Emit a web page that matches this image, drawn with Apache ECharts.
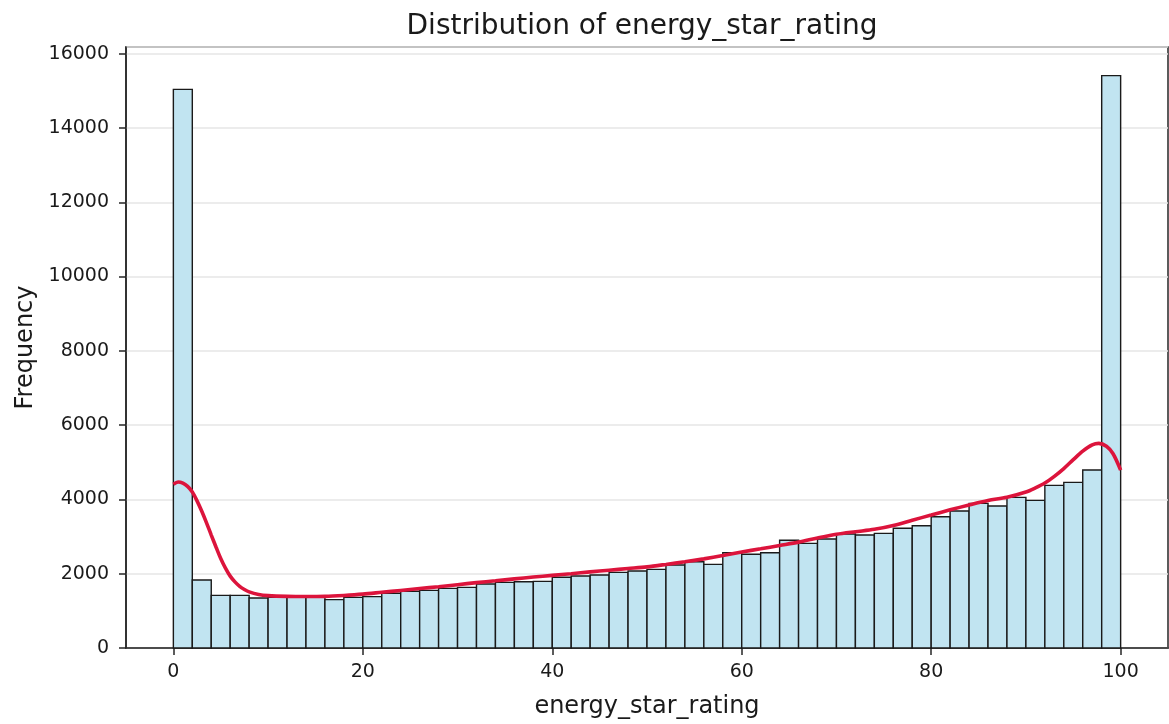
<!DOCTYPE html>
<html>
<head>
<meta charset="utf-8">
<title>Distribution of energy_star_rating</title>
<script src="https://cdn.jsdelivr.net/npm/echarts@6/dist/echarts.min.js"></script>
<style>
  html, body { margin: 0; padding: 0; background: #ffffff; }
  #chart { width: 1169px; height: 724px; }
</style>
</head>
<body>
<div id="chart"></div>
<script>
// Histogram bins: 50 bins of width 2 covering 0..100
const BIN_START = 0;
const BIN_WIDTH = 2;
const binCounts = [
  15040, 1830, 1418, 1418, 1346, 1364, 1364, 1364, 1301, 1364,
  1382, 1472, 1526, 1552, 1606, 1633, 1723, 1768, 1785, 1795,
  1903, 1938, 1965, 2037, 2073, 2118, 2234, 2324, 2252, 2566,
  2522, 2566, 2899, 2818, 2934, 3069, 3042, 3087, 3222, 3293,
  3535, 3688, 3894, 3823, 4056, 3975, 4379, 4460, 4792, 15410
];

// Kernel density estimate, scaled to counts
const kdeX = [0, 0.5, 1, 1.5, 2, 2.5, 3, 3.5, 4, 4.5, 5, 5.5, 6, 6.5, 7, 7.5, 8, 9, 10,
  12, 14, 16, 18, 20, 22, 24, 26, 28, 30, 32, 34, 36, 38, 40, 42, 44, 46, 48, 50,
  52, 54, 56, 58, 60, 62, 64, 66, 68, 70, 72, 74, 76, 78, 80, 82, 84, 86, 88, 90,
  91, 92, 93, 94, 95, 96, 97, 97.7, 98.5, 99.2, 100];
const kdeY = [4410, 4470, 4440, 4350, 4200, 3960, 3680, 3370, 3040, 2720, 2410, 2150, 1935, 1780, 1660, 1575, 1510, 1440, 1410,
  1390, 1385, 1390, 1415, 1450, 1500, 1550, 1600, 1650, 1705, 1760, 1810, 1860, 1910, 1955, 2000, 2050, 2095, 2140, 2185,
  2250, 2320, 2400, 2490, 2585, 2670, 2760, 2850, 2960, 3060, 3130, 3195, 3300, 3440, 3580, 3720, 3850, 3970, 4060, 4200,
  4310, 4440, 4620, 4830, 5070, 5300, 5470, 5510, 5430, 5230, 4790];

// Axis ticks
const xTicks = [0, 20, 40, 60, 80, 100];
const Y_MAX = 16180;
const Y_STEP = 2000;

const FONT = 'DejaVu Sans';
const INK = '#1a1a1a';
const SPINE = '#262626';

const histData = binCounts.map((c, i) => [BIN_START + i * BIN_WIDTH, BIN_START + (i + 1) * BIN_WIDTH, c]);
const kdeData = kdeX.map((x, i) => [x, kdeY[i]]);

const chart = echarts.init(document.getElementById('chart'), null, { renderer: 'canvas' });

chart.setOption({
  backgroundColor: '#ffffff',
  animation: false,
  title: {
    text: 'Distribution of energy_star_rating',
    left: 637,
    top: 8,
    textAlign: 'center',
    textStyle: { fontFamily: FONT, fontSize: 28, fontWeight: 'normal', color: INK }
  },
  grid: {
    left: 126, right: 1, top: 47, bottom: 76,
    show: true, borderColor: SPINE, borderWidth: 1.5, backgroundColor: 'transparent'
  },
  xAxis: {
    type: 'value',
    min: -5,
    max: 105,
    name: 'energy_star_rating',
    nameLocation: 'middle',
    nameGap: 47,
    nameTextStyle: { fontFamily: FONT, fontSize: 24, color: INK },
    axisLine: { show: true, onZero: false, lineStyle: { color: SPINE, width: 1.5 } },
    axisTick: { show: true, inside: false, length: 7, customValues: xTicks, lineStyle: { color: SPINE, width: 1.5 } },
    axisLabel: { customValues: xTicks, margin: 15, fontFamily: FONT, fontSize: 19, color: INK },
    splitLine: { show: false }
  },
  yAxis: {
    type: 'value',
    min: 0,
    max: Y_MAX,
    interval: Y_STEP,
    name: 'Frequency',
    nameLocation: 'middle',
    nameGap: 88,
    nameTextStyle: { fontFamily: FONT, fontSize: 24, color: INK },
    axisLine: { show: true, onZero: false, lineStyle: { color: SPINE, width: 1.5 } },
    axisTick: { show: true, inside: false, length: 7, lineStyle: { color: SPINE, width: 1.5 } },
    axisLabel: {
      margin: 17, fontFamily: FONT, fontSize: 19, color: INK,
      showMaxLabel: false,
      formatter: v => String(v)
    },
    splitLine: { show: true, lineStyle: { color: '#e6e6e6', width: 1.5 } }
  },
  series: [
    {
      type: 'custom',
      name: 'count',
      data: histData,
      encode: { x: [0, 1], y: 2 },
      z: 2,
      renderItem: function (params, api) {
        const top = api.coord([api.value(0), api.value(2)]);
        const base = api.coord([api.value(1), 0]);
        return {
          type: 'rect',
          shape: { x: top[0], y: top[1], width: base[0] - top[0], height: base[1] - top[1] },
          style: { fill: '#c1e4f1', stroke: '#1a1a1a', lineWidth: 1.4 }
        };
      }
    },
    {
      type: 'line',
      name: 'kde',
      data: kdeData,
      smooth: 0.3,
      showSymbol: false,
      z: 3,
      lineStyle: { color: '#dc143c', width: 3.6 }
    }
  ]
});
</script>
</body>
</html>
